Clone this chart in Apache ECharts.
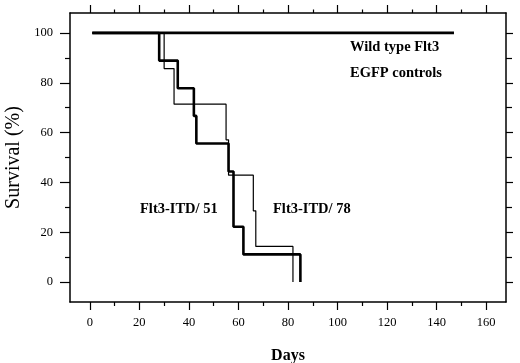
<!DOCTYPE html>
<html>
<head>
<meta charset="utf-8">
<script src="https://cdn.jsdelivr.net/npm/echarts@6/dist/echarts.min.js"></script>
<style>
  html, body { margin: 0; padding: 0; background: #fff; }
  #chart { width: 520px; height: 363px; }
</style>
</head>
<body>
<div id="chart"></div>
<script>
// 数据：生存曲线（Kaplan-Meier）
var wildDays = [1, 147];
var wildSurv = [100, 100];

var itd51Days = [1, 28, 35.5, 42, 43, 56, 58, 62, 85];
var itd51Surv = [100, 88.9, 77.8, 66.7, 55.6, 44.4, 22.2, 11.1, 0];

var itd78Days = [1, 30, 34, 55, 56, 66, 67, 82];
var itd78Surv = [100, 85.7, 71.4, 57.1, 42.9, 28.6, 14.3, 0];

// 刻度
var xMajor = [0, 20, 40, 60, 80, 100, 120, 140, 160];
var xMinor = [10, 30, 50, 70, 90, 110, 130, 150];
var yMajor = [0, 20, 40, 60, 80, 100];
var yMinor = [-10, 10, 30, 50, 70, 90];

var serif = '"Liberation Serif", "Times New Roman", serif';

function pairs(xs, ys) {
    var out = [];
    for (var i = 0; i < xs.length; i++) out.push([xs[i], ys[i]]);
    return out;
}

// 生成坐标轴（主刻度 / 次刻度）
function makeX(pos, ticks, len, labels, line) {
    return {
        type: "value", position: pos, min: -8, max: 168, scale: true,
        axisLine: { show: line, onZero: false, lineStyle: { color: "#000", width: 1.5 } },
        axisTick: { show: true, customValues: ticks, length: len, lineStyle: { color: "#000", width: 1.2 } },
        axisLabel: labels ? { customValues: xMajor, color: "#000", fontFamily: serif, fontSize: 12.5, margin: 14 } : { show: false },
        splitLine: { show: false }
    };
}
function makeY(pos, ticks, len, labels, line) {
    return {
        type: "value", position: pos, min: -8, max: 108, scale: true,
        axisLine: { show: line, onZero: false, lineStyle: { color: "#000", width: 1.5 } },
        axisTick: { show: true, customValues: ticks, length: len, lineStyle: { color: "#000", width: 1.2 } },
        axisLabel: labels ? { customValues: yMajor, color: "#000", fontFamily: serif, fontSize: 12.5, margin: 17 } : { show: false },
        splitLine: { show: false }
    };
}

var xAxes = [
    makeX("bottom", xMajor, 8, true, true),
    makeX("bottom", xMinor, 4, false, false),
    makeX("top", xMajor, 8, false, true),
    makeX("top", xMinor, 3.5, false, false)
];
xAxes[0].name = "Days";
xAxes[0].nameLocation = "middle";
xAxes[0].nameGap = 46;
xAxes[0].nameTextStyle = { fontFamily: serif, fontSize: 16, fontWeight: "bold", color: "#000" };

var yAxes = [
    makeY("left", yMajor, 10, true, true),
    makeY("left", yMinor, 5, false, false),
    makeY("right", yMajor, 7, false, true),
    makeY("right", yMinor, 6, false, false)
];
yAxes[0].name = "Survival (%)";
yAxes[0].nameLocation = "middle";
yAxes[0].nameGap = 46;
yAxes[0].nameTextStyle = { fontFamily: serif, fontSize: 20, color: "#000" };

var myChart = echarts.init(document.getElementById("chart"));
myChart.setOption({
    backgroundColor: "#fff",
    animation: false,
    grid: { left: 70, right: 14, top: 13, bottom: 61, outerBoundsMode: "none" },
    xAxis: xAxes,
    yAxis: yAxes,
    graphic: [
        { type: "text", x: 350, y: 47, style: { text: "Wild type Flt3", font: "bold 14.5px " + serif, fill: "#000", verticalAlign: "middle" } },
        { type: "text", x: 350, y: 73, style: { text: "EGFP controls", font: "bold 14.5px " + serif, fill: "#000", verticalAlign: "middle" } },
        { type: "text", x: 140, y: 209, style: { text: "Flt3-ITD/ 51", font: "bold 14.5px " + serif, fill: "#000", verticalAlign: "middle" } },
        { type: "text", x: 273, y: 209, style: { text: "Flt3-ITD/ 78", font: "bold 14.5px " + serif, fill: "#000", verticalAlign: "middle" } }
    ],
    series: [
        {
            type: "line", name: "Wild type Flt3", data: pairs(wildDays, wildSurv),
            symbol: "none", lineStyle: { color: "#000", width: 2.8 }
        },
        {
            type: "line", name: "Flt3-ITD/ 78", step: "end", data: pairs(itd78Days, itd78Surv),
            symbol: "none", lineStyle: { color: "#000", width: 1.2 }
        },
        {
            type: "line", name: "Flt3-ITD/ 51", step: "end", data: pairs(itd51Days, itd51Surv),
            symbol: "none", lineStyle: { color: "#000", width: 2.6 }
        }
    ]
});
</script>
</body>
</html>
